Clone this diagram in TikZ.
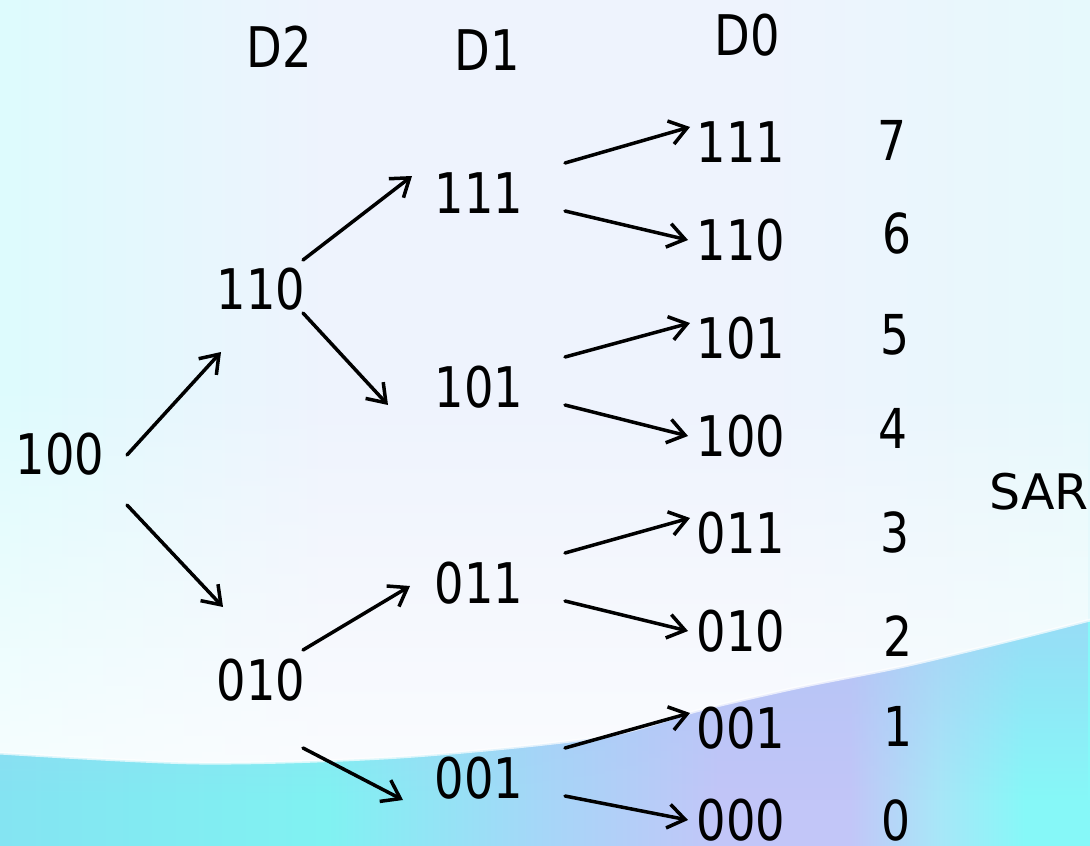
\documentclass[tikz,border=0pt]{standalone}
\usepackage{fontspec}
\usetikzlibrary{arrows.meta,fadings}
\newfontfamily\cnd[FakeStretch=0.92]{DejaVu Sans Condensed}
\newfontfamily\djv{DejaVu Sans}

% colours of the backdrop
\definecolor{skyA}{HTML}{DDFBFD}
\definecolor{skyB}{HTML}{EEF3FD}
\definecolor{skyC}{HTML}{E6F9FC}
\definecolor{seaA}{HTML}{84E4F2}
\definecolor{seaB}{HTML}{80F2F2}
\definecolor{seaC}{HTML}{A6D6F8}
\definecolor{seaD}{HTML}{C2C6F8}
\definecolor{seaE}{HTML}{A8E6F8}
\definecolor{seaF}{HTML}{86F8F8}
\definecolor{rim}{HTML}{A8C4F4}

\pgfdeclarehorizontalshading{skyshade}{100bp}{
  color(0bp)=(skyA); color(25bp)=(skyA); color(40bp)=(skyB);
  color(60bp)=(skyB); color(75bp)=(skyC); color(100bp)=(skyC)}
\pgfdeclarehorizontalshading{seashade}{100bp}{
  color(0bp)=(seaA); color(25bp)=(seaA); color(40bp)=(seaB);
  color(50bp)=(seaC); color(58bp)=(seaD); color(64bp)=(seaD);
  color(68bp)=(seaE); color(72bp)=(seaF); color(100bp)=(seaF)}

\tikzset{
  code/.style={font=\cnd\fontsize{56}{60}\selectfont, inner sep=0pt, anchor=center},
  head/.style={font=\cnd\fontsize{56}{60}\selectfont, inner sep=0pt, anchor=center},
  val/.style={font=\cnd\fontsize{55}{60}\selectfont, inner sep=0pt, anchor=center},
  tag/.style={font=\djv\fontsize{49}{54}\selectfont, inner sep=0pt, anchor=center},
  arr/.style={line width=3.5pt, line cap=round,
    -{Straight Barb[length=17pt,width=24pt,line width=3.5pt]}},
}

\begin{document}
\begin{tikzpicture}[x=1pt,y=-1pt]
% backdrop
\useasboundingbox (0,0) rectangle (1090,846);
\shade[shading=skyshade] (0,0) rectangle (1090,846);
\fill[white, path fading=north, opacity=0.75] (0,380) rectangle (1090,780);
\def\shore{plot[smooth] coordinates {(0,753) (200,763) (400,757) (600,737) (700,710)
                            (800,687) (900,667) (1000,643) (1090,620)}}
\shade[shading=seashade] \shore -- (1090,846) -- (0,846) -- cycle;
\begin{scope}
  \clip \shore -- (1090,846) -- (0,846) -- cycle;
  \fill[rim, path fading=south, opacity=0.55] (0,610) rectangle (1090,800);
\end{scope}
\draw[white, line width=3pt, opacity=0.7] \shore;

% column headings
\node[head] (h2) at (279,47) {D2};
\node[head] (h1) at (487,50) {D1};
\node[head] (h0) at (747,35) {D0};

% decision tree of codes
\node[code] (r)    at (60,454)  {100};
\node[code] (a110) at (261,289) {110};
\node[code] (a010) at (261,680) {010};
\node[code] (b111) at (479,193) {111};
\node[code] (b101) at (479,387) {101};
\node[code] (b011) at (479,583) {011};
\node[code] (b001) at (479,778) {001};
\node[code] (c111) at (741,142) {111};
\node[code] (c110) at (741,240) {110};
\node[code] (c101) at (741,338) {101};
\node[code] (c100) at (741,436) {100};
\node[code] (c011) at (741,533) {011};
\node[code] (c010) at (741,631) {010};
\node[code] (c001) at (741,728) {001};
\node[code] (c000) at (741,820) {000};

% decimal values
\node[val] (v7) at (892,140) {7};
\node[val] (v6) at (897,233) {6};
\node[val] (v5) at (895,335) {5};
\node[val] (v4) at (893,428) {4};
\node[val] (v3) at (895,532) {3};
\node[val] (v2) at (898,636) {2};
\node[val] (v1) at (898,726) {1};
\node[val] (v0) at (896,820) {0};

\node[tag] (sar) at (1039,492) {SAR};

% first bit
\draw[arr] ([shift={(67,1)}]r.center)  -- ([shift={(-40,63)}]a110.center);
\draw[arr] ([shift={(67,51)}]r.center) -- ([shift={(-38,-73)}]a010.center);
% second bit
\draw[arr] ([shift={(42,-29)}]a110.center) -- ([shift={(-67,-17)}]b111.center);
\draw[arr] ([shift={(42,24)}]a110.center)  -- ([shift={(-91,18)}]b101.center);
\draw[arr] ([shift={(42,-30)}]a010.center) -- ([shift={(-69,3)}]b011.center);
\draw[arr] ([shift={(42,68)}]a010.center)  -- ([shift={(-76,22)}]b001.center);
% third bit
\foreach \p/\u/\l in {b111/c111/c110, b101/c101/c100, b011/c011/c010, b001/c001/c000}{
  \draw[arr] ([shift={(86,-30)}]\p.center) -- ([shift={(-51,-15)}]\u.center);
  \draw[arr] ([shift={(86,18)}]\p.center)  -- ([shift={(-53,0)}]\l.center);
}
\end{tikzpicture}
\end{document}
